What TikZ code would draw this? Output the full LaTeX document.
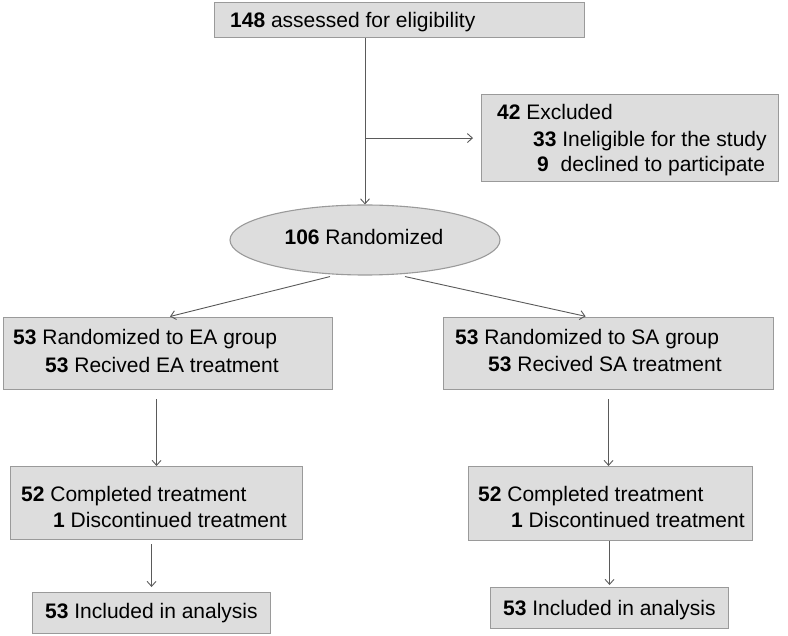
\documentclass[tikz,border=0pt]{standalone}
\usepackage{fontspec}
\setmainfont{Liberation Sans}
\usetikzlibrary{arrows.meta,shapes.geometric,calc}
\definecolor{boxfill}{HTML}{DDDDDD}
\definecolor{boxline}{HTML}{9A9A9A}
\definecolor{conn}{HTML}{5A5A5A}
\begin{document}
\begin{tikzpicture}[x=1pt,y=-1pt,
  box/.style={draw=boxline,fill=boxfill,line width=1.1pt,inner sep=0pt,anchor=north west},
  txt/.style={inner sep=0pt,anchor=base west,font=\fontsize{21}{25}\selectfont},
  arr/.style={draw=conn,line width=0.9pt,-{Straight Barb[length=5pt,width=9pt]}}]
\useasboundingbox (0,0) rectangle (788,636);

% boxes
\node[box,minimum width=370pt,minimum height=35pt] (top) at (214,2) {};
\node[box,minimum width=297pt,minimum height=87pt] (excl) at (481,94) {};
\node[draw=boxline,fill=boxfill,line width=1.1pt,ellipse,minimum width=270pt,minimum height=70pt,inner sep=0pt] (ell) at (365,240) {};
\node[box,minimum width=329pt,minimum height=72pt] (ea1) at (3,317) {};
\node[box,minimum width=330pt,minimum height=72pt] (sa1) at (443,317) {};
\node[box,minimum width=292pt,minimum height=73pt] (ea2) at (10,466) {};
\node[box,minimum width=284pt,minimum height=74pt] (sa2) at (468,466) {};
\node[box,minimum width=238pt,minimum height=41pt] (ea3) at (32,592) {};
\node[box,minimum width=238pt,minimum height=41pt] (sa3) at (490,587) {};

% texts
\node[txt] (ttop) at (230,28) {\textbf{148} assessed for eligibility};
\node[txt] (te1) at (497,120) {\textbf{42} Excluded};
\node[txt] (te2) at (533,146.5) {\textbf{33} Ineligible for the study};
\node[txt] (te3) at (537,171.5) {\textbf{9}\hspace{6pt} declined to participate};
\node[txt,anchor=base] (tell) at (364,245) {\textbf{106} Randomized};
\node[txt] (tea1) at (13,345) {\textbf{53} Randomized to EA group};
\node[txt] (tea2) at (45,373) {\textbf{53} Recived EA treatment};
\node[txt] (tsa1) at (455,345) {\textbf{53} Randomized to SA group};
\node[txt] (tsa2) at (488,372) {\textbf{53} Recived SA treatment};
\node[txt] (tea3) at (21,501) {\textbf{52} Completed treatment};
\node[txt] (tea4) at (53,527) {\textbf{1} Discontinued treatment};
\node[txt] (tsa3) at (478,502) {\textbf{52} Completed treatment};
\node[txt] (tsa4) at (511,527) {\textbf{1} Discontinued treatment};
\node[txt] (tea5) at (45,618) {\textbf{53} Included in analysis};
\node[txt] (tsa5) at (503,615) {\textbf{53} Included in analysis};

% connectors
\draw[arr] (top.south -| ell.north) -- (ell.north);
\draw[arr,shorten >=8pt] (ell.north |- excl.west) -- (excl.west);
\draw[arr,shorten >=2pt] ($(ell.south)+(-35,1)$) -- (ea1.north);
\draw[arr,shorten >=3pt] ($(ell.south)+(40,1)$) -- ($(sa1.north)+(-20,0)$);
\draw[arr,shorten <=9pt] (ea2.north |- ea1.south) -- (ea2.north);
\draw[arr,shorten <=9pt] ($(sa2.north |- sa1.south)+(-2,0)$) -- ($(sa2.north)+(-2,0)$);
\draw[arr,shorten <=4pt,shorten >=5pt] (ea3.north |- ea2.south) -- (ea3.north);
\draw[arr,shorten >=2pt] (sa3.north |- sa2.south) -- (sa3.north);
\end{tikzpicture}
\end{document}
